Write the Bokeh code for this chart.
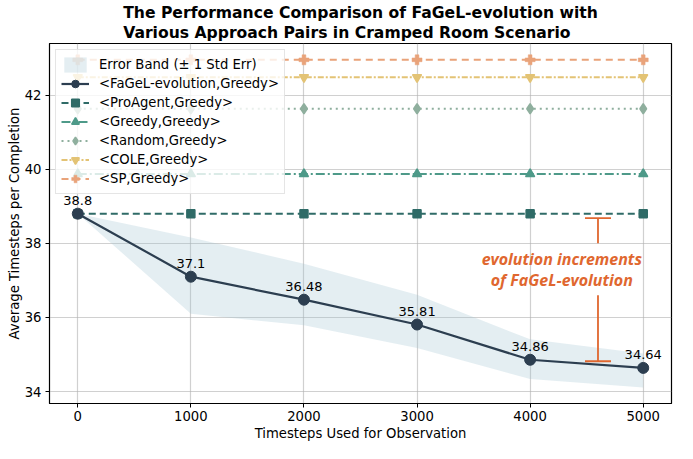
from bokeh.plotting import figure
from bokeh.models import Legend, LegendItem, Range1d, FixedTicker, ColumnDataSource
from bokeh.core.properties import value
from bokeh.embed import file_html
from bokeh.resources import INLINE

# ---- data ----
x_steps = [0, 1000, 2000, 3000, 4000, 5000]
fagel = [38.8, 37.1, 36.48, 35.81, 34.86, 34.64]
band_upper = [38.8, 38.16, 37.45, 36.61, 35.41, 35.03]
band_lower = [38.8, 36.1, 35.79, 35.18, 34.34, 34.11]
proagent = [38.8] * 6
greedy = [39.87] * 6
random_ = [41.63] * 6
cole = [42.48] * 6
sp = [42.95] * 6
point_labels = ["38.8", "37.1", "36.48", "35.81", "34.86", "34.64"]
x_ticks = [0, 1000, 2000, 3000, 4000, 5000]
y_ticks = [34, 36, 38, 40, 42]

# annotation values
ann_x = 4600
ann_top = 38.68
ann_bottom = 34.82
ann_gap_top = 38.0
ann_gap_bottom = 36.6
ann_text_x = 4280
ann_text_y1 = 37.58
ann_text_y2 = 37.0

FONT = "DejaVu Sans"

p = figure(width=677, height=443, output_backend="svg", toolbar_location=None,
           x_range=Range1d(-250, 5250), y_range=Range1d(33.68, 43.39),
           title="The Performance Comparison of FaGeL-evolution with\nVarious Approach Pairs in Cramped Room Scenario",
           min_border_left=49, min_border_right=6, min_border_top=0, min_border_bottom=0)

p.title.align = "center"
p.title.text_font = FONT
p.title.text_font_size = "15.6px"
p.title.text_font_style = "bold"
p.title.text_color = "black"
p.title.text_line_height = 1.15
p.title.offset = 0
p.title.standoff = 2

p.outline_line_color = "black"
p.outline_line_width = 1.2
p.outline_line_alpha = 1

for ax in (p.xaxis[0], p.yaxis[0]):
    ax.axis_line_color = "black"
    ax.major_tick_line_color = "black"
    ax.major_tick_out = 4
    ax.major_tick_in = 0
    ax.minor_tick_line_color = None
    ax.major_label_text_font = FONT
    ax.major_label_text_font_size = "13.2px"
    ax.major_label_text_color = "black"
    ax.axis_label_text_font = FONT
    ax.axis_label_text_font_size = "13.2px"
    ax.axis_label_text_font_style = "normal"
    ax.axis_label_text_color = "black"

p.xaxis.major_label_standoff = 3
p.xaxis.major_label_text_line_height = 0.8
p.xaxis.axis_label_text_line_height = 0.8
p.yaxis.major_label_standoff = 4
p.xaxis.ticker = FixedTicker(ticks=x_ticks)
p.yaxis.ticker = FixedTicker(ticks=y_ticks)
p.xaxis.axis_label = "Timesteps Used for Observation"
p.xaxis.axis_label_standoff = 2
p.yaxis.axis_label = "Average Timesteps per Completion"
p.yaxis.axis_label_standoff = 0

p.xgrid.ticker = FixedTicker(ticks=x_ticks)
p.ygrid.ticker = FixedTicker(ticks=y_ticks)
p.grid.grid_line_color = "#b0b0b0"
p.grid.grid_line_alpha = 0.6
p.grid.grid_line_width = 1.2

band = p.varea(x=x_steps, y1=band_lower, y2=band_upper, fill_color="#9ec3cf", fill_alpha=0.28)

series = [
    ("<SP,Greedy>", sp, "#E9A37A", "7 5", "plus", 10),
    ("<COLE,Greedy>", cole, "#E3C375", "6 2 2 2", "inverted_triangle", 9),
    ("<Random,Greedy>", random_, "#8FAF9E", "2 4", "diamond", 10),
    ("<Greedy,Greedy>", greedy, "#4E9A89", "9 3 2 3", "triangle", 9),
    ("<ProAgent,Greedy>", proagent, "#2F6B67", "7 4", "square", 8),
]
rends = {}
for name, ys, col, dash, mk, sz in series:
    ln = p.line(x_steps, ys, line_color=col, line_width=2, line_dash=dash)
    sc = p.scatter(x_steps, ys, marker=mk, size=sz, fill_color=col, line_color=col,
                   line_width=1.5 if mk != "plus" else 0.5)
    rends[name] = [ln, sc]

fl = p.line(x_steps, fagel, line_color="#2C3E50", line_width=2.2)
fs = p.scatter(x_steps, fagel, marker="circle", size=11, fill_color="#2C3E50", line_color="#2C3E50")

src = ColumnDataSource(dict(x=x_steps, y=fagel, t=point_labels))
p.text(x="x", y="y", text="t", source=src, text_align="center", text_baseline="bottom",
       y_offset=-9, text_font=value(FONT), text_font_size="13px", text_color="black")

# annotation
ann_col = "#E0672F"
p.segment(x0=[ann_x - 115, ann_x - 115, ann_x, ann_x], y0=[ann_top, ann_bottom, ann_top, ann_gap_bottom],
          x1=[ann_x + 115, ann_x + 115, ann_x, ann_x], y1=[ann_top, ann_bottom, ann_gap_top, ann_bottom],
          line_color=ann_col, line_width=1.8)
p.text(x=[ann_text_x, ann_text_x], y=[ann_text_y1, ann_text_y2],
       text=["evolution increments", "of FaGeL-evolution"],
       text_align="center", text_baseline="middle", text_font=value("Open Sans"),
       text_font_size="16px", text_font_style="bold italic", text_color=ann_col)

items = [
    LegendItem(label="Error Band (± 1 Std Err)", renderers=[band]),
    LegendItem(label="<FaGeL-evolution,Greedy>", renderers=[fl, fs]),
    LegendItem(label="<ProAgent,Greedy>", renderers=rends["<ProAgent,Greedy>"]),
    LegendItem(label="<Greedy,Greedy>", renderers=rends["<Greedy,Greedy>"]),
    LegendItem(label="<Random,Greedy>", renderers=rends["<Random,Greedy>"]),
    LegendItem(label="<COLE,Greedy>", renderers=rends["<COLE,Greedy>"]),
    LegendItem(label="<SP,Greedy>", renderers=rends["<SP,Greedy>"]),
]
legend = Legend(items=items, location="top_left")
legend.label_text_font = FONT
legend.label_text_font_size = "13.2px"
legend.label_text_color = "black"
legend.spacing = 0
legend.label_height = 19
legend.glyph_height = 19
legend.glyph_width = 28
legend.padding = 5
legend.margin = 6
legend.label_standoff = 10
legend.border_line_color = "#cccccc"
legend.background_fill_alpha = 0.8
p.add_layout(legend)

open("out.html", "w").write(file_html(p, INLINE))
